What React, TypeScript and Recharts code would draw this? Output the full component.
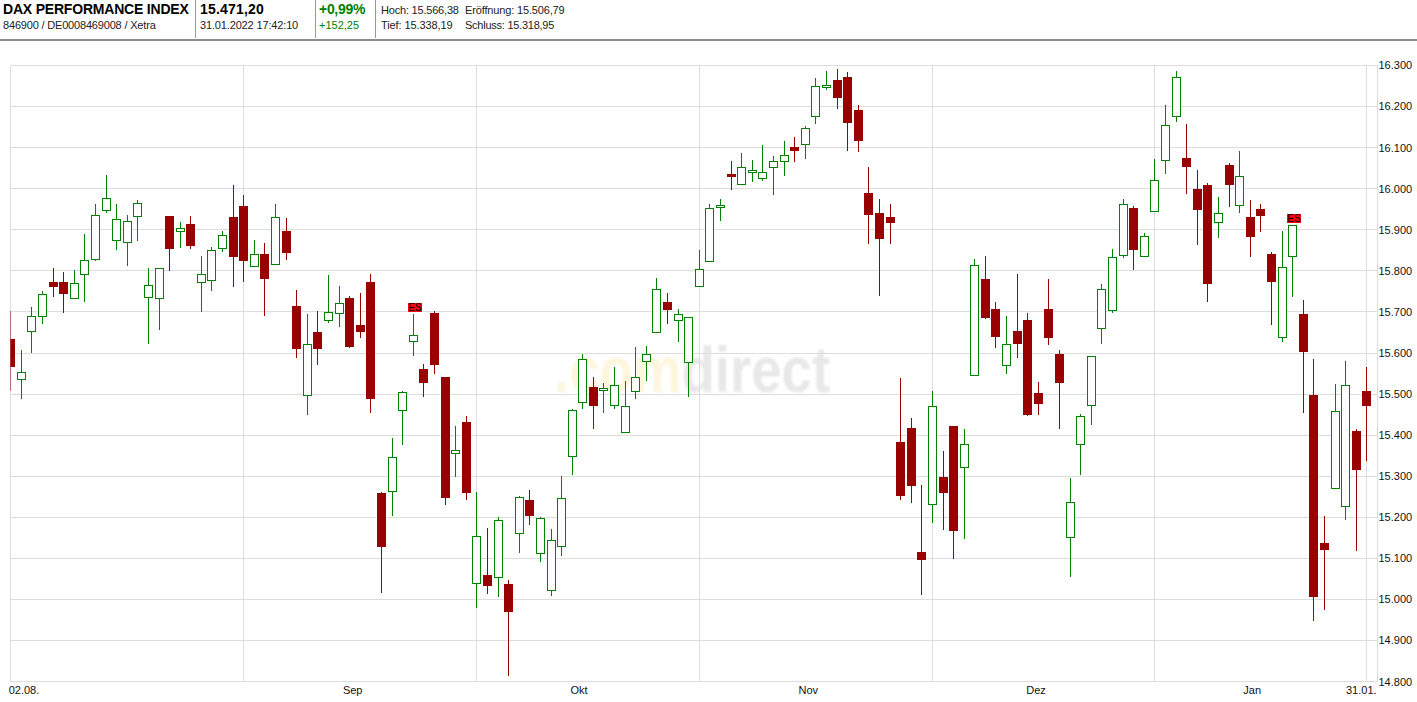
import { Bar, CartesianGrid, ComposedChart, XAxis, YAxis } from 'recharts'

const highs = [
  15703, 15608, 15713, 15752, 15808, 15798, 15803, 15889, 15964, 16033,
  15962, 15937, 15972, 15806, 15807, 15933, 15920, 15933, 15835, 15859,
  15898, 16008, 15984, 15876, 15869, 15962, 15928, 15754, 15694, 15703,
  15789, 15764, 15740, 15745, 15793, 15262, 15394, 15508, 15696, 15574,
  15703, 15542, 15423, 15447, 15262, 15174, 15200, 15047, 15251, 15267,
  15200, 15172, 15301, 15463, 15598, 15542, 15528, 15567, 15533, 15615,
  15618, 15783, 15745, 15706, 15688, 15850, 15962, 15974, 16067, 16086,
  16069, 16106, 16079, 16115, 16125, 16152, 16269, 16286, 16291, 16284,
  16204, 16054, 15976, 15964, 15540, 15442, 15279, 15508, 15361, 15423,
  15415, 15828, 15835, 15723, 15689, 15793, 15698, 15530, 15781, 15608,
  15296, 15452, 15593, 15769, 15854, 15976, 15957, 15891, 16072, 16203,
  16286, 16157, 16045, 16015, 15981, 16062, 16091, 15972, 15964, 15845,
  15898, 15912, 15728, 15586, 15203, 15525, 15581, 15415, 15566,
]

const lows = [
  15508, 15489, 15599, 15670, 15736, 15697, 15734, 15724, 15824, 15941,
  15850, 15811, 15872, 15621, 15655, 15799, 15855, 15853, 15699, 15750,
  15846, 15760, 15772, 15809, 15689, 15814, 15826, 15589, 15450, 15572,
  15672, 15663, 15611, 15636, 15453, 15016, 15202, 15377, 15592, 15494,
  15550, 15231, 15299, 15243, 14980, 15014, 15007, 14814, 15114, 15182,
  15092, 15009, 15107, 15302, 15463, 15414, 15455, 15463, 15405, 15489,
  15531, 15648, 15670, 15628, 15494, 15760, 15824, 15921, 15997, 16009,
  16016, 16020, 15984, 16031, 16065, 16072, 16158, 16241, 16194, 16092,
  16089, 15865, 15738, 15865, 15241, 15236, 15011, 15185, 15170, 15099,
  15148, 15543, 15682, 15611, 15548, 15589, 15446, 15450, 15619, 15416,
  15055, 15302, 15424, 15621, 15697, 15831, 15802, 15833, 15943, 16036,
  16163, 15987, 15863, 15724, 15880, 15956, 15941, 15833, 15894, 15667,
  15628, 15736, 15455, 14948, 14975, 15271, 15194, 15119, 15338,
]

const opens = [
  15633, 15537, 15654, 15690, 15772, 15774, 15734, 15793, 15829, 15949,
  15876, 15871, 15934, 15737, 15734, 15933, 15898, 15913, 15773, 15778,
  15856, 15930, 15959, 15812, 15842, 15817, 15898, 15715, 15498, 15650,
  15680, 15698, 15733, 15667, 15774, 15259, 15263, 15461, 15629, 15562,
  15698, 15542, 15356, 15433, 15039, 15059, 15054, 15037, 15161, 15242,
  15112, 15022, 15129, 15349, 15480, 15518, 15510, 15473, 15407, 15507,
  15580, 15651, 15725, 15680, 15578, 15763, 15824, 15955, 16037, 16012,
  16041, 16027, 16054, 16068, 16101, 16110, 16176, 16248, 16264, 16272,
  16191, 15989, 15942, 15930, 15384, 15418, 15115, 15232, 15298, 15423,
  15322, 15546, 15781, 15706, 15571, 15654, 15681, 15503, 15708, 15598,
  15151, 15378, 15473, 15661, 15705, 15839, 15954, 15837, 15946, 16071,
  16178, 16076, 16000, 16008, 15920, 16057, 15961, 15930, 15950, 15840,
  15639, 15837, 15696, 15498, 15137, 15271, 15227, 15411, 15507,
]

const closes = [
  15567, 15554, 15690, 15744, 15760, 15743, 15771, 15827, 15937, 15978,
  15927, 15922, 15966, 15766, 15807, 15853, 15905, 15860, 15793, 15851,
  15888, 15833, 15824, 15841, 15780, 15932, 15843, 15609, 15622, 15609,
  15700, 15722, 15614, 15650, 15487, 15128, 15346, 15505, 15644, 15528,
  15572, 15246, 15363, 15258, 15154, 15033, 15193, 14970, 15249, 15204,
  15198, 15144, 15246, 15461, 15585, 15472, 15515, 15522, 15471, 15541,
  15598, 15756, 15704, 15695, 15688, 15805, 15954, 15961, 16028, 16054,
  16046, 16041, 16068, 16083, 16093, 16149, 16249, 16252, 16221, 16160,
  16116, 15936, 15877, 15916, 15253, 15277, 15097, 15471, 15260, 15167,
  15378, 15815, 15685, 15638, 15622, 15621, 15450, 15475, 15636, 15528,
  15237, 15446, 15593, 15756, 15834, 15963, 15850, 15885, 16022, 16154,
  16273, 16053, 15948, 15767, 15941, 16009, 16032, 15882, 15933, 15772,
  15810, 15912, 15602, 15007, 15121, 15459, 15522, 15316, 15471,
]

const esFlags = [38, 121]
const monthLines = [0, 22, 44, 65, 87, 108, 128]
const priceTicks = [14800, 14900, 15000, 15100, 15200, 15300, 15400, 15500, 15600, 15700, 15800, 15900, 16000, 16100, 16200, 16300]
const dateTicks = [1.27, 32.3, 53.66, 75.3, 96.8, 117.2, 127.5]
const dateLabels = ['02.08.', 'Sep', 'Okt', 'Nov', 'Dez', 'Jan', '31.01.']

const candles = highs.map((high, i) => ({
  i, high, low: lows[i], open: opens[i], close: closes[i], es: esFlags.includes(i),
}))

const RED = '#990000'
const GREEN = '#008000'
const GRID = '#dddddd'
const FONT = '"Liberation Sans", Arial, sans-serif'

function Candle(props: any) {
  const { x, y, width, height, payload } = props
  const { high, low, open, close, es } = payload
  const k = height / (high - low)
  const cx = Math.floor(x + width / 2) + 0.5
  const bodyTop = Math.round(y + (high - Math.max(open, close)) * k)
  const bodyBot = Math.round(y + (high - Math.min(open, close)) * k)
  const top = Math.round(y)
  const bot = Math.round(y + height)
  const up = close >= open
  return (
    <g shapeRendering="crispEdges">
      <line x1={cx} x2={cx} y1={top} y2={bot} stroke={up ? GREEN : RED} strokeWidth={1} />
      {up ? (
        <rect x={cx - 4} y={bodyTop + 0.5} width={8} height={Math.max(bodyBot - bodyTop, 1)} fill="#fff" stroke={GREEN} strokeWidth={1} />
      ) : (
        <rect x={cx - 4.5} y={bodyTop} width={9} height={Math.max(bodyBot - bodyTop, 2)} fill={RED} />
      )}
      {es && (
        <g>
          <rect x={cx - 5.5} y={top - 11} width={14} height={9} fill="#ff0010" />
          <text x={cx + 1.5} y={top - 3} textAnchor="middle" fontSize={10} fontFamily={FONT} fill="#000">ES</text>
        </g>
      )}
    </g>
  )
}

const cell = (left: number, top: number, text: string, size: number, color: string, bold = false, spacing = 0) => (
  <div style={{ position: 'absolute', left, top, fontFamily: FONT, fontSize: size, color, fontWeight: bold ? 700 : 400, lineHeight: '16px', letterSpacing: spacing, whiteSpace: 'nowrap' }}>{text}</div>
)

export default function App() {
  return (
    <div style={{ position: 'absolute', left: 0, top: 0, width: 1417, height: 702, background: '#fff', overflow: 'hidden' }}>
      {cell(3, 1, 'DAX PERFORMANCE INDEX', 14, '#000', true, -0.2)}
      {cell(3, 17, '846900 / DE0008469008 / Xetra', 11, '#222', false, -0.18)}
      {cell(200, 1, '15.471,20', 14, '#000', true, 0.2)}
      {cell(200, 17, '31.01.2022 17:42:10', 11, '#222', false, -0.15)}
      {cell(319, 1, '+0,99%', 14, '#008000', true, -0.3)}
      {cell(319, 17, '+152,25', 11, '#008000')}
      {cell(381, 2, 'Hoch: 15.566,38', 11, '#222', false, -0.2)}
      {cell(465, 2, 'Eröffnung: 15.506,79', 11, '#222', false, -0.15)}
      {cell(381, 17, 'Tief: 15.338,19', 11, '#222', false, -0.1)}
      {cell(465, 17, 'Schluss: 15.318,95', 11, '#222', false, -0.25)}
      {[195, 315, 375].map((l) => (
        <div key={l} style={{ position: 'absolute', left: l, top: 0, width: 1, height: 38, background: '#999' }} />
      ))}
      <div style={{ position: 'absolute', left: 0, top: 39, width: 1417, height: 2, background: '#8c8c8c' }} />
      <div style={{ position: 'absolute', left: 554, top: 330, fontFamily: FONT, fontWeight: 700, fontSize: 65, whiteSpace: 'nowrap', lineHeight: '80px', transform: 'scaleX(0.84)', transformOrigin: 'left top', filter: 'blur(1px)' }}>
        <span style={{ color: '#fdf6dc' }}>.com</span>
        <span style={{ color: '#e8e8e8' }}>direct</span>
      </div>
      <div style={{ position: 'absolute', left: 0, top: 0 }}>
        <ComposedChart width={1417} height={702} data={candles} margin={{ top: 65.5, right: 0, bottom: 0, left: 10.5 }}>
          <CartesianGrid stroke={GRID} verticalValues={monthLines} horizontalValues={priceTicks} shapeRendering="crispEdges" />
          <XAxis
            dataKey="i"
            type="number"
            domain={[0, 129.03]}
            allowDataOverflow
            ticks={dateTicks}
            interval={0}
            height={20.4}
            axisLine={false}
            tickLine={false}
            tickSize={0}
            tickMargin={5}
            tickFormatter={(v: number) => dateLabels[dateTicks.indexOf(v)]}
            tick={{ fontSize: 11, fill: '#111', fontFamily: FONT }}
          />
          <YAxis
            orientation="right"
            type="number"
            domain={[14800, 16300]}
            ticks={priceTicks}
            interval={0}
            width={39.5}
            axisLine={{ stroke: GRID }}
            tickLine={false}
            tickSize={0}
            tickMargin={1}
            tickFormatter={(v: number) => String(v).slice(0, 2) + '.' + String(v).slice(2)}
            tick={{ fontSize: 11, fill: '#111', fontFamily: FONT, textAnchor: 'start' }}
          />
          <Bar dataKey={(d: any) => [d.low, d.high]} barSize={9} shape={Candle} isAnimationActive={false} />
        </ComposedChart>
      </div>
    </div>
  )
}
